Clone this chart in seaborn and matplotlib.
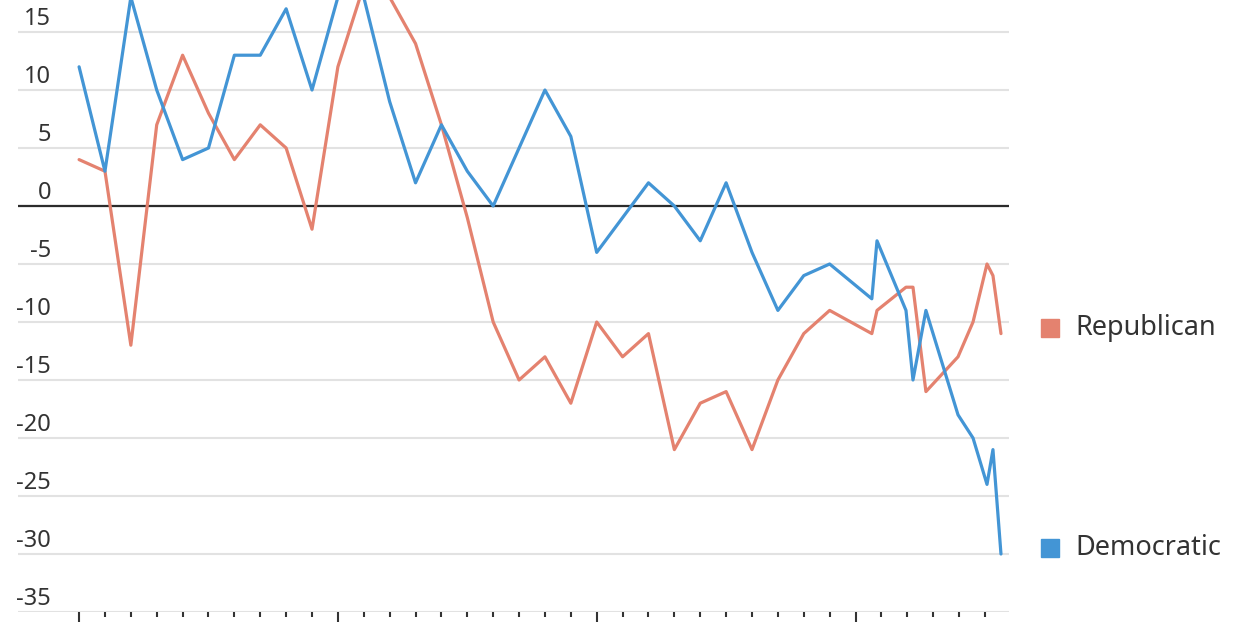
import pandas as pd
import seaborn as sns
import matplotlib.pyplot as plt
from matplotlib.transforms import offset_copy

# poll dates (fractional years)
years = [1990, 1991, 1992, 1993, 1994, 1995, 1996, 1997, 1998, 1999,
         2000, 2001, 2002, 2003, 2004, 2005, 2006, 2007, 2008, 2009,
         2010, 2011, 2012, 2013, 2014, 2015, 2016, 2017, 2018, 2019,
         2020.63, 2020.83, 2021.95, 2022.22, 2022.72, 2023.96, 2024.54,
         2025.08, 2025.31, 2025.62]

republican = [4, 3, -12, 7, 13, 8, 4, 7, 5, -2,
              12, 19, 18, 14, 7, -1, -10, -15, -13, -17,
              -10, -13, -11, -21, -17, -16, -21, -15, -11, -9,
              -11, -9, -7, -7, -16, -13, -10, -5, -6, -11]

democratic = [12, 3, 18, 10, 4, 5, 13, 13, 17, 10,
              18, 18, 9, 2, 7, 3, 0, 5, 10, 6,
              -4, -1, 2, 0, -3, 2, -4, -9, -6, -5,
              -8, -3, -9, -15, -9, -18, -20, -24, -21, -30]

parties = ['Republican', 'Democratic']
colors = {'Republican': '#e4826f', 'Democratic': '#4395d5'}

y_ticks = [-35, -30, -25, -20, -15, -10, -5, 0, 5, 10, 15]
major_years = [1990, 2000, 2010, 2020]
minor_years = list(range(1990, 2026))

df = pd.concat([
    pd.DataFrame({'year': years, 'value': republican, 'party': 'Republican'}),
    pd.DataFrame({'year': years, 'value': democratic, 'party': 'Democratic'}),
])

sns.set_style('white')
plt.rcParams['font.family'] = ['Noto Sans', 'DejaVu Sans']

fig = plt.figure(figsize=(12.6, 6.3), dpi=100)
ax = fig.add_axes([18 / 1260, 18 / 630, 991 / 1260, 612 / 630])

sns.lineplot(data=df, x='year', y='value', hue='party', hue_order=parties,
             palette=colors, linewidth=2.3, legend=False, ax=ax)

ax.set_xlim(1987.64, 2025.93)
ax.set_ylim(-35, 17.76)

# grid + zero line
ax.set_yticks(y_ticks)
ax.grid(axis='y', color='#e2e2e2', linewidth=1.5)
ax.grid(axis='x', visible=False)
ax.axhline(0, color='#2b2b2b', linewidth=1.6, zorder=1.5)
for s in ax.spines.values():
    s.set_visible(False)

ax.set_xticks(major_years)
ax.set_xticks(minor_years, minor=True)
ax.tick_params(axis='x', which='major', length=7.5, width=1.5, color='#333333',
               direction='out', labelbottom=False, bottom=True)
ax.tick_params(axis='x', which='minor', length=3.8, width=1.5, color='#333333',
               direction='out', bottom=True)
ax.tick_params(axis='y', length=0, labelleft=False)
ax.set_xlabel('')
ax.set_ylabel('')

# y labels sit above their gridlines, inside the plot
lab_tr = offset_copy(ax.get_yaxis_transform(), fig=fig, x=0, y=7, units='dots')
for v in y_ticks:
    ax.text(33 / 991, v, str(v), transform=lab_tr, ha='right', va='baseline',
            fontsize=17, color='#333333')

# labels at the line ends
end_tr = ax.get_yaxis_transform()
for p, vals in [('Republican', republican), ('Democratic', democratic)]:
    ax.plot([1032 / 991], [vals[-1] + 0.5], marker='s', ms=13, color=colors[p],
            transform=end_tr, clip_on=False, linestyle='none')
    ax.text(1057 / 991, vals[-1] + 0.5, p, transform=end_tr, ha='left', va='center',
            fontsize=19.5, color='#333333')

plt.savefig('out.png', dpi=100)
